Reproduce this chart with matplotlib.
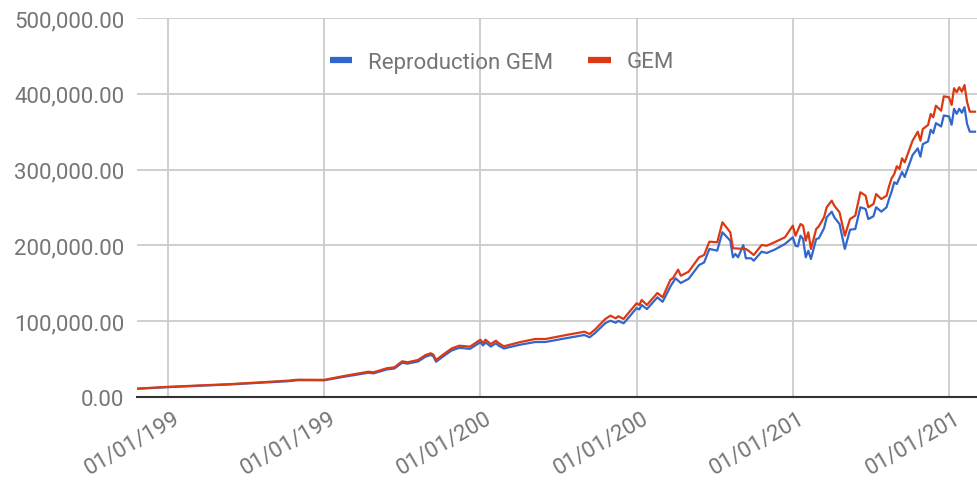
import pandas as pd
import numpy as np
import matplotlib
matplotlib.use('Agg')
import matplotlib.pyplot as plt
import matplotlib.dates as mdates
import matplotlib.transforms as mtransforms
from matplotlib.lines import Line2D

# GEM values (thousands of $)
gem_dates = ['1989-01', '1990-01', '1992-01', '1993-11', '1994-03', '1995-01', '1995-08', '1996-06',
             '1996-08', '1997-01', '1997-04', '1997-07', '1997-09', '1998-01', '1998-04', '1998-06',
             '1998-07', '1998-08', '1998-11', '1999-02', '1999-05', '1999-09', '2000-01', '2000-02',
             '2000-03', '2000-05', '2000-07', '2000-08', '2000-10', '2001-04', '2001-10', '2002-02',
             '2002-10', '2003-05', '2003-07', '2003-09', '2004-01', '2004-03', '2004-05', '2004-06',
             '2004-08', '2004-09', '2005-01', '2005-02', '2005-03', '2005-05', '2005-09', '2005-11',
             '2006-02', '2006-03', '2006-05', '2006-06', '2006-09', '2007-01', '2007-03', '2007-05',
             '2007-08', '2007-10', '2008-01', '2008-02', '2008-07', '2008-08', '2008-10', '2009-01',
             '2009-03', '2009-06', '2009-10', '2010-01', '2010-02', '2010-04', '2010-05', '2010-06',
             '2010-07', '2010-08', '2010-10', '2010-11', '2011-01', '2011-02', '2011-04', '2011-05',
             '2011-07', '2011-09', '2011-11', '2012-01', '2012-03', '2012-05', '2012-06', '2012-08',
             '2012-09', '2012-11', '2013-01', '2013-02', '2013-03', '2013-04', '2013-05', '2013-06',
             '2013-07', '2013-08', '2013-11', '2014-01', '2014-02', '2014-03', '2014-05', '2014-06',
             '2014-07', '2014-08', '2014-10', '2014-11', '2015-01', '2015-02', '2015-03', '2015-04',
             '2015-05', '2015-06', '2015-07', '2015-08', '2015-09', '2015-11']
gem_k = [11.0, 13.4, 17.0, 21.5, 22.8, 22.6, 27.3, 33.4,
         32.6, 37.9, 39.2, 47.1, 45.8, 48.8, 55.4, 57.7,
         55.8, 48.8, 56.7, 64.2, 67.7, 66.4, 75.6, 71.2,
         75.6, 69.9, 74.3, 71.2, 66.9, 72.2, 76.5, 76.5,
         81.8, 86.1, 83.1, 88.8, 102.9, 107.3, 103.8, 106.5,
         102.9, 107.3, 123.6, 121.4, 128.0, 121.4, 137.2, 131.5,
         154.8, 156.6, 168.0, 160.0, 165.3, 184.3, 187.3, 204.9,
         204.1, 230.5, 217.3, 196.2, 195.3, 193.0, 187.3, 200.5,
         199.6, 204.1, 210.7, 226.0, 212.8, 228.2, 226.0, 206.2,
         217.3, 195.3, 221.6, 225.2, 237.1, 250.3, 259.0, 252.4,
         243.7, 212.8, 234.8, 239.2, 270.1, 265.6, 250.3, 254.6,
         267.8, 261.2, 265.6, 278.8, 288.5, 294.2, 304.4, 300.8,
         314.9, 309.6, 338.1, 350.0, 338.1, 353.6, 358.8, 373.4,
         369.0, 384.3, 377.7, 396.7, 395.4, 385.2, 407.3, 402.0,
         408.6, 402.8, 411.6, 388.8, 376.4, 376.4]

# Reproduction GEM values (thousands of $)
repro_dates = ['1989-01', '1990-01', '1992-01', '1993-11', '1994-03', '1995-01', '1995-08', '1996-06',
               '1996-08', '1997-01', '1997-04', '1997-07', '1997-09', '1998-01', '1998-04', '1998-06',
               '1998-07', '1998-08', '1998-11', '1999-02', '1999-05', '1999-09', '2000-01', '2000-02',
               '2000-03', '2000-05', '2000-07', '2000-08', '2000-10', '2001-04', '2001-10', '2002-02',
               '2002-10', '2003-05', '2003-07', '2003-09', '2004-01', '2004-03', '2004-05', '2004-06',
               '2004-08', '2004-09', '2005-01', '2005-02', '2005-03', '2005-05', '2005-09', '2005-11',
               '2006-02', '2006-04', '2006-06', '2006-09', '2007-01', '2007-03', '2007-05', '2007-08',
               '2007-10', '2008-01', '2008-02', '2008-03', '2008-04', '2008-06', '2008-07', '2008-09',
               '2008-10', '2009-01', '2009-03', '2009-06', '2009-10', '2010-01', '2010-02', '2010-03',
               '2010-04', '2010-05', '2010-06', '2010-07', '2010-08', '2010-10', '2010-11', '2011-01',
               '2011-02', '2011-04', '2011-05', '2011-07', '2011-09', '2011-11', '2012-01', '2012-03',
               '2012-05', '2012-06', '2012-08', '2012-09', '2012-11', '2013-01', '2013-02', '2013-03',
               '2013-04', '2013-05', '2013-07', '2013-08', '2013-11', '2014-01', '2014-02', '2014-03',
               '2014-05', '2014-06', '2014-07', '2014-08', '2014-10', '2014-11', '2015-01', '2015-02',
               '2015-03', '2015-04', '2015-05', '2015-06', '2015-07', '2015-08', '2015-09', '2015-11']
repro_k = [10.8, 13.0, 16.6, 20.8, 22.2, 22.0, 26.3, 32.0,
           31.2, 36.3, 37.6, 45.2, 44.0, 46.8, 53.2, 55.5,
           53.6, 46.5, 54.3, 61.5, 64.9, 63.5, 72.2, 68.0,
           72.0, 66.6, 70.8, 67.8, 64.0, 68.8, 72.5, 72.6,
           77.6, 81.8, 78.8, 84.2, 97.5, 100.7, 98.0, 100.4,
           97.2, 101.0, 117.4, 115.5, 121.4, 116.0, 131.5, 125.6,
           146.0, 156.6, 150.4, 155.9, 174.1, 177.5, 195.3, 193.1,
           217.3, 206.2, 184.3, 188.7, 184.3, 200.5, 183.0, 183.0,
           179.8, 191.7, 190.0, 194.3, 201.9, 210.7, 199.6, 198.7,
           212.8, 208.4, 184.3, 193.0, 182.1, 208.4, 209.4, 222.6,
           237.1, 244.5, 237.1, 228.2, 195.3, 220.7, 221.6, 250.3,
           248.0, 234.8, 238.4, 250.3, 244.5, 250.3, 262.0, 271.0,
           283.3, 281.0, 296.8, 290.2, 319.2, 328.0, 317.0, 333.6,
           337.1, 352.5, 348.1, 361.3, 356.9, 371.4, 370.1, 359.1,
           380.2, 373.6, 380.2, 375.0, 382.4, 360.0, 350.0, 350.0]

tick_years = ['1990-01-01', '1995-01-01', '2000-01-01', '2005-01-01', '2010-01-01', '2015-01-01']
tick_labels = ['01/01/199', '01/01/199', '01/01/200', '01/01/200', '01/01/201', '01/01/201']
y_ticks = [0, 100000, 200000, 300000, 400000, 500000]

BLUE = '#3366cc'
RED = '#dc3912'
GREY = '#757575'

plt.rcParams['font.family'] = ['Roboto', 'DejaVu Sans']

fig = plt.figure(figsize=(9.77, 4.89), dpi=100)
ax = fig.add_axes([137 / 977, 91 / 489, 840 / 977, 379 / 489])

gd = pd.to_datetime(gem_dates)
rd = pd.to_datetime(repro_dates)
ax.plot(rd, np.array(repro_k) * 1000, color=BLUE, lw=1.6, zorder=3)
ax.plot(gd, np.array(gem_k) * 1000, color=RED, lw=1.6, zorder=4)

# x range: 1990 tick sits 31 px from the left, 2015 tick 28 px from the right
t0 = mdates.date2num(pd.Timestamp('1990-01-01'))
t1 = mdates.date2num(pd.Timestamp('2015-01-01'))
per_px = (t1 - t0) / 781
ax.set_xlim(t0 - 31 * per_px, t1 + 28 * per_px)
ax.set_ylim(0, 500000)

ax.set_xticks(pd.to_datetime(tick_years))
ax.set_xticklabels(tick_labels, rotation=30, ha='right', va='center', rotation_mode='anchor')
ax.set_yticks(y_ticks)
ax.set_yticklabels(['{:,.2f}'.format(v) for v in y_ticks])
ax.tick_params(axis='both', length=0, labelsize=16, labelcolor=GREY)
ax.tick_params(axis='y', pad=9)
ax.tick_params(axis='x', pad=14)

offset = mtransforms.ScaledTranslation(10 / 100, 0, fig.dpi_scale_trans)
for lab in ax.get_xticklabels():
    lab.set_transform(lab.get_transform() + offset)

ax.grid(True, color='#cccccc', lw=1.3)
ax.set_axisbelow(True)
for s in ax.spines.values():
    s.set_visible(False)
ax.axhline(0, color='#333333', lw=1.5, zorder=5, clip_on=False)

handles = [Line2D([], [], color=BLUE, lw=4.5, solid_capstyle='butt'),
           Line2D([], [], color=RED, lw=4.5, solid_capstyle='butt')]
leg = fig.legend(handles, ['Reproduction GEM', 'GEM'], loc='center left',
                 bbox_to_anchor=(330 / 977, 1 - 63 / 489), ncol=2, frameon=False,
                 fontsize=16, handlelength=1.0, handletextpad=0.7, columnspacing=1.6,
                 borderpad=0, borderaxespad=0)
for t in leg.get_texts():
    t.set_color(GREY)

fig.savefig('out.png', dpi=100)
